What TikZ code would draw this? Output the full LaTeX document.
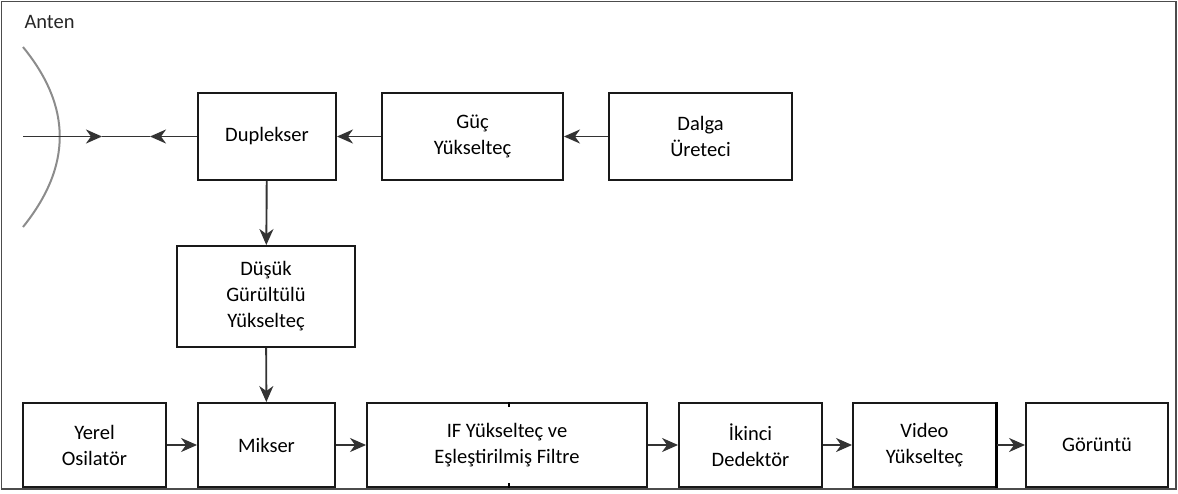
\documentclass[tikz,border=0pt]{standalone}
\usepackage{fontspec}
\setmainfont{Carlito}
\usetikzlibrary{arrows.meta}
\begin{document}
\begin{tikzpicture}[x=1pt,y=-1pt,
    font=\fontsize{20.5}{26}\selectfont,
    blok/.style={draw=black!90, line width=1.9pt, align=center, inner sep=0pt},
    ok/.style={draw=black!80, line width=1.9pt, -{Stealth[length=16pt,width=14pt,inset=5pt]}},
    hat/.style={draw=black!80, line width=1.9pt}]
      \useasboundingbox (0,0) rectangle (1178,493);
      \draw[black!70, line width=1.5pt] (1.5,1.5) rectangle (1176,489);

      % anten
      \node[anchor=west, text=black!85] (anten) at (21,22) {Anten};
      \draw[black!45, line width=2pt] (23,47) .. controls (72,107) and (72,166) .. (23,227);

      % ust sira
	\node[blok, minimum width=138, minimum height=87] (dup) at (267,136.5) {Duplekser};
	\node[blok, minimum width=181, minimum height=87] (guc) at (472.5,136.5) {Güç\\Yükselteç};
	\node[blok, minimum width=183, minimum height=87] (dalga) at (700.5,136.5) {Dalga\\Üreteci};
	\node[blok, minimum width=178, minimum height=101] (lna) at (266,296.5) {Düşük\\Gürültülü\\Yükselteç};

      % alt sira
	\node[blok, minimum width=143, minimum height=84] (yerel) at (94.5,445) {Yerel\\Osilatör};
	\node[blok, minimum width=137, minimum height=84] (mik) at (266.5,445) {Mikser};
	\node[blok, minimum width=280, minimum height=84] (ifb) at (507,445) {IF Yükselteç ve\\Eşleştirilmiş Filtre};
	\node[blok, minimum width=143, minimum height=84] (iki) at (750.5,445) {İkinci\\Dedektör};
	\node[blok, minimum width=143, minimum height=84] (vid) at (924.5,445) {Video\\Yükselteç};
	\node[blok, minimum width=142, minimum height=84] (gor) at (1097,445) {Görüntü};
      \draw[line width=3pt] (vid.north east) -- (vid.south east);
      \draw[line width=1.5pt] ([xshift=2]ifb.north) -- ++(0,5);
      \draw[line width=1.5pt] ([xshift=2]ifb.south) -- ++(0,-5);

      \coordinate (ucA) at (23,136.5);
      \coordinate (okSag) at (102,136.5);
      \coordinate (okSol) at (150,136.5);

      \draw[ok] (dalga) -- (guc);
      \draw[ok] (guc) -- (dup);
      \draw[ok] (dup) -- (okSol);
      \draw[ok] (ucA) -- (okSag);
      \draw[hat] (okSag) -- (okSol);
      \draw[ok] (dup) -- (lna);
      \draw[ok] (lna) -- (mik);
      \draw[ok] (yerel) -- (mik);
      \draw[ok] (mik) -- (ifb);
      \draw[ok] (ifb) -- (iki);
      \draw[ok] (iki) -- (vid);
      \draw[ok] (vid) -- (gor);
\end{tikzpicture}
\end{document}
